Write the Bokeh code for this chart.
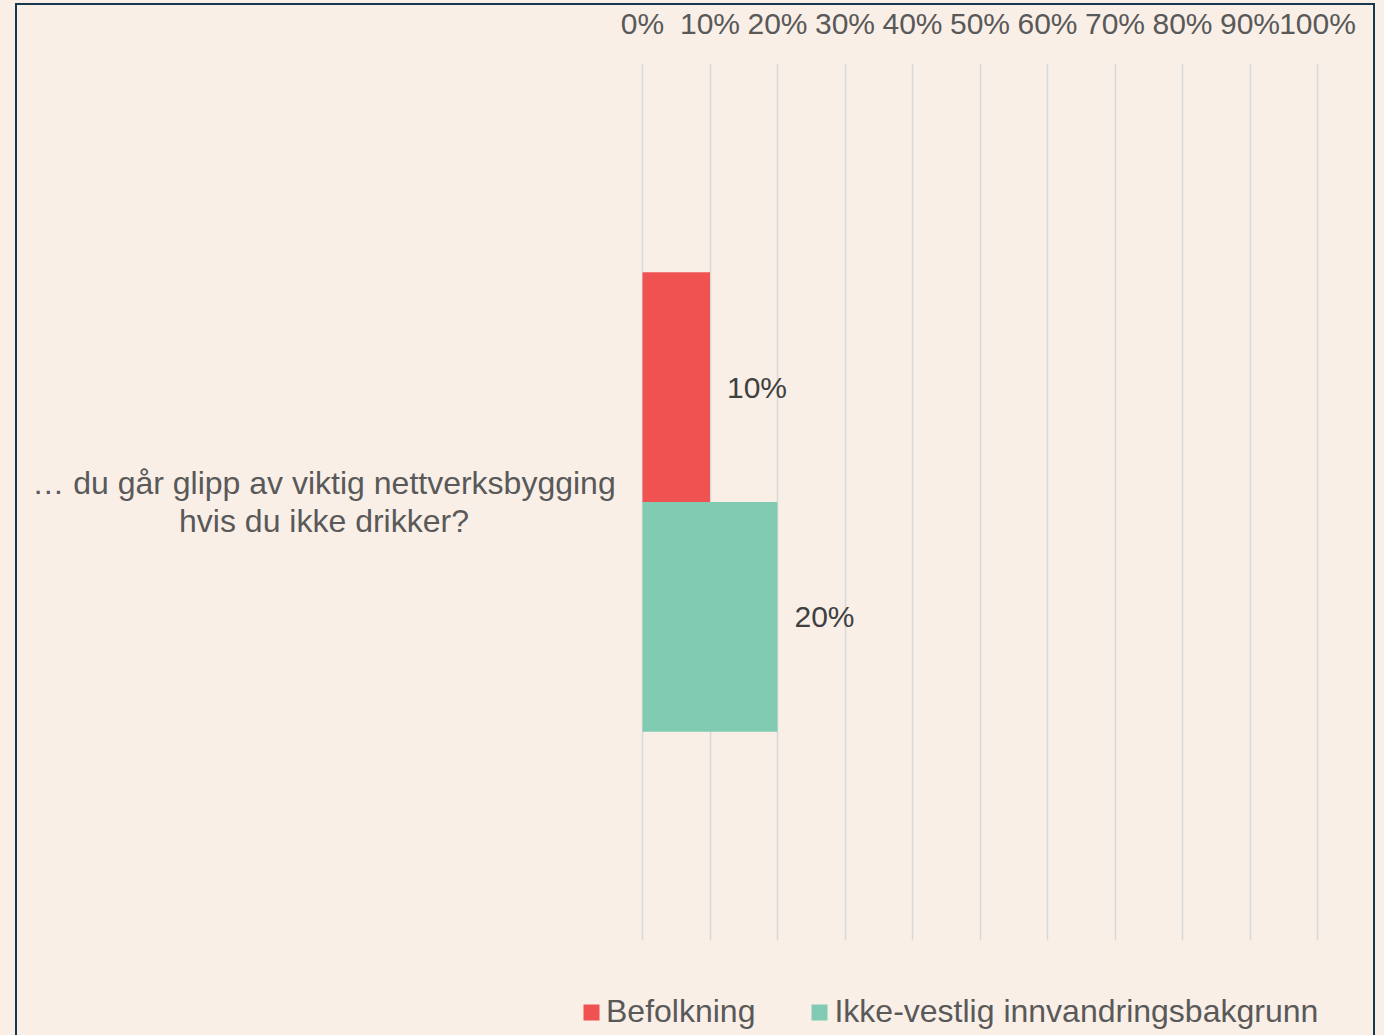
from bokeh.plotting import figure
from bokeh.models import (ColumnDataSource, Range1d, FixedTicker, NumeralTickFormatter,
                          Legend, LegendItem, Label, BoxAnnotation, InlineStyleSheet)
from bokeh.transform import dodge
from bokeh.core.properties import value
from bokeh.embed import file_html
from bokeh.resources import INLINE

# ---- data ----
categories = ["… du går glipp av viktig nettverksbygging\nhvis du ikke drikker?"]
series_names = ["Befolkning", "Ikke-vestlig innvandringsbakgrunn"]
befolkning = [0.10]
ikke_vestlig = [0.20]
tick_values = [0.0, 0.1, 0.2, 0.3, 0.4, 0.5, 0.6, 0.7, 0.8, 0.9, 1.0]

# ---- styles ----
colors = ["#EF5250", "#81CBB3"]
bg = "#F9EFE7"
font = "Liberation Sans"
fs = "30px"

W, H = 1376, 1032
left_px, unit_px = 642, 675          # position of 0 % and width of 0-100 %
top_px, band_px = 63, 877            # top of category band and its height
x_start = -left_px / unit_px
x_end = (W - left_px) / unit_px
y_end = 0.5
y_start = 0.5 - (H - top_px) / band_px

p = figure(width=W, height=H,
           x_range=Range1d(x_start, x_end), y_range=Range1d(y_start, y_end),
           x_axis_location="above",
           output_backend="svg", toolbar_location=None,
           min_border_left=0, min_border_right=0,
           min_border_top=top_px, min_border_bottom=0,
           background_fill_color=bg, border_fill_color=bg)
p.outline_line_color = None
p.stylesheets = [InlineStyleSheet(css=(
    ":host{position:relative;}"
    ":host::after{content:'';position:absolute;left:15px;top:3px;width:1360px;height:1100px;"
    "border:2px solid #17384F;box-sizing:border-box;pointer-events:none;}"))]

ypos = list(range(len(categories)))
src_a = ColumnDataSource(dict(y=ypos, val=befolkning,
                              lab=[f"{v:.0%}" for v in befolkning]))
src_b = ColumnDataSource(dict(y=ypos, val=ikke_vestlig,
                              lab=[f"{v:.0%}" for v in ikke_vestlig]))

off = 0.131
h = 0.262
ra = p.hbar(y=dodge("y", off), left=0, right="val", height=h,
            source=src_a, fill_color=colors[0], line_color=None)
rb = p.hbar(y=dodge("y", -off), left=0, right="val", height=h,
            source=src_b, fill_color=colors[1], line_color=None)

for src, o in ((src_a, off), (src_b, -off)):
    p.text(x="val", y=dodge("y", o), text="lab", source=src,
           x_offset=17, text_baseline="middle", text_align="left",
           text_font=value(font), text_font_size=fs, text_color="#404040")

# x axis (top)
xa = p.xaxis[0]
xa.ticker = FixedTicker(ticks=tick_values)
xa.formatter = NumeralTickFormatter(format="0%")
xa.axis_line_color = None
xa.major_tick_line_color = None
xa.minor_tick_line_color = None
xa.major_label_text_font = font
xa.major_label_text_font_size = fs
xa.major_label_text_color = "#595959"
xa.major_label_standoff = 18

p.yaxis.visible = False
p.ygrid.grid_line_color = None
p.xgrid.ticker = FixedTicker(ticks=tick_values)
p.xgrid.grid_line_color = "#D9D9D9"
p.xgrid.grid_line_width = 1.5

# category label, centred to the left of the bars
for i, c in enumerate(categories):
    p.add_layout(Label(x=(323.5 - left_px) / unit_px, y=ypos[i],
                       text=c, text_align="center", text_baseline="middle",
                       text_font=font, text_font_size="32px", text_color="#595959",
                       text_line_height=1.06))

# end the grid lines at the bottom of the category band
p.add_layout(BoxAnnotation(top=-0.5, fill_color=bg, fill_alpha=1, line_color=None))

legend = Legend(items=[LegendItem(label=series_names[0], renderers=[ra]),
                       LegendItem(label=series_names[1], renderers=[rb])],
                orientation="horizontal", location=(581, 2),
                glyph_width=20, glyph_height=20, label_standoff=5, spacing=54,
                padding=0, margin=0, border_line_color=None,
                background_fill_alpha=0,
                label_text_font=font, label_text_font_size="32px",
                label_text_color="#595959", label_height=32)
p.add_layout(legend)

html = file_html(p, INLINE)
html = html.replace("<head>", "<head><style>html,body{background:%s;overflow:hidden;}</style>" % bg, 1)
open("out.html", "w").write(html)
